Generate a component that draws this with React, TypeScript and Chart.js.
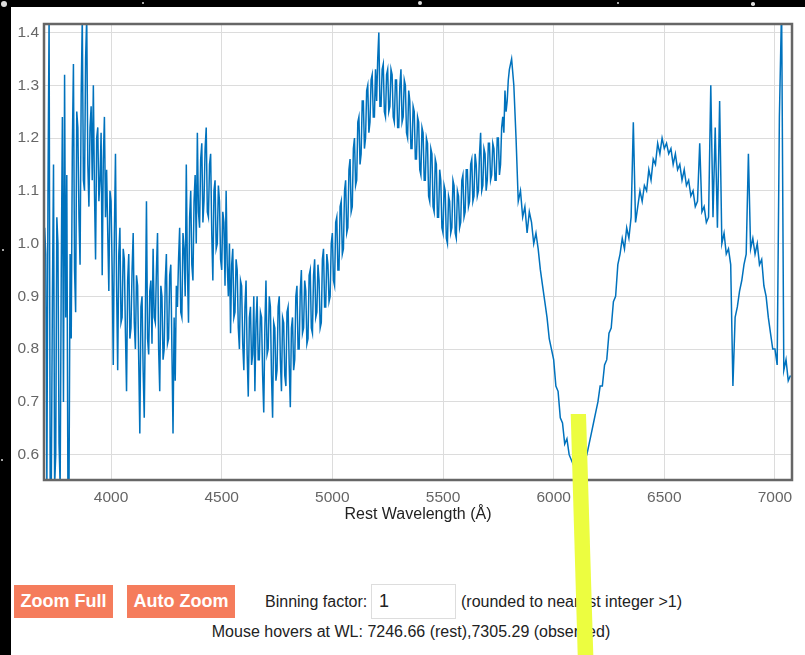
import React, { useEffect, useRef } from 'react';
import { Chart, registerables } from 'chart.js';

Chart.register(...registerables);

// Spectrum, rest wavelength grid: every 5 Å from 3700 to 5795 Å, then every 10 Å to 7070 Å
const FINE_START = 3700;
const FINE_STEP = 5;
const COARSE_START = 5800;
const COARSE_STEP = 10;

const FLUX_3700_4695 = [
  1.03, 0.98, 0.54, 1.10, 1.43, 0.54, 0.54, 0.90, 1.15, 0.54, 0.60, 1.05, 1.00, 0.62, 0.54, 0.95, 1.24, 0.70, 1.32, 0.86,
  1.13, 0.54, 0.54, 0.98, 0.82, 1.18, 1.34, 0.95, 0.87, 1.25, 1.22, 1.05, 0.96, 1.28, 1.43, 1.12, 1.10, 1.35, 1.43, 1.15,
  1.07, 1.22, 1.26, 1.12, 1.30, 1.10, 0.97, 1.20, 1.22, 1.08, 1.12, 1.21, 0.94, 1.16, 1.24, 1.05, 1.14, 1.02, 0.91, 1.10,
  1.08, 0.95, 0.77, 1.02, 1.17, 0.92, 0.76, 0.98, 1.03, 0.85, 0.86, 0.99, 0.97, 0.83, 0.72, 0.93, 0.98, 0.82, 0.84, 0.95,
  1.02, 0.85, 0.80, 0.94, 0.92, 0.78, 0.64, 0.88, 0.90, 0.76, 0.67, 0.86, 1.08, 0.82, 0.79, 0.91, 0.93, 0.81, 0.99, 0.86,
  0.85, 0.95, 1.02, 0.80, 0.72, 0.92, 0.90, 0.78, 0.80, 0.93, 0.98, 0.81, 0.82, 0.94, 0.96, 0.80, 0.64, 0.86, 0.74, 0.92,
  0.88, 0.97, 1.03, 0.87, 0.86, 1.02, 0.99, 0.90, 1.15, 0.95, 0.85, 1.05, 1.10, 0.96, 0.93, 1.08, 1.13, 1.00, 1.21, 1.06,
  1.03, 1.16, 1.19, 1.04, 1.08, 1.18, 1.22, 1.06, 1.05, 1.15, 1.17, 1.02, 0.93, 1.10, 1.12, 0.99, 1.00, 1.11, 1.08, 0.97,
  0.95, 1.06, 1.04, 0.92, 1.10, 0.96, 0.90, 1.00, 0.83, 0.96, 0.99, 0.86, 0.87, 0.97, 0.95, 0.84, 0.80, 0.93, 0.92, 0.81,
  0.76, 0.88, 0.93, 0.79, 0.71, 0.86, 0.88, 0.77, 0.79, 0.90, 0.72, 0.85, 0.90, 0.78, 0.78, 0.87, 0.86, 0.75, 0.68, 0.84,
];
const FLUX_4700_5795 = [
  0.93, 0.79, 0.80, 0.90, 0.88, 0.75, 0.67, 0.85, 0.84, 0.74, 0.76, 0.88, 0.90, 0.78, 0.72, 0.86, 0.85, 0.75, 0.73, 0.87,
  0.88, 0.77, 0.69, 0.84, 0.86, 0.76, 0.78, 0.90, 0.92, 0.80, 0.80, 0.91, 0.95, 0.83, 0.84, 0.93, 0.91, 0.81, 0.82, 0.94,
  0.95, 0.84, 0.83, 0.94, 0.97, 0.86, 0.87, 0.96, 0.93, 0.84, 0.85, 0.97, 0.99, 0.88, 0.88, 0.98, 0.96, 0.89, 0.90, 1.00,
  1.02, 0.93, 0.92, 1.04, 1.05, 0.95, 0.95, 1.07, 1.08, 0.98, 0.99, 1.10, 1.12, 1.02, 1.03, 1.14, 1.16, 1.06, 1.07, 1.18,
  1.20, 1.11, 1.12, 1.23, 1.24, 1.15, 1.17, 1.27, 1.27, 1.18, 1.20, 1.29, 1.30, 1.21, 1.23, 1.31, 1.32, 1.24, 1.24, 1.33,
  1.27, 1.35, 1.40, 1.26, 1.26, 1.33, 1.34, 1.25, 1.24, 1.32, 1.33, 1.25, 1.26, 1.33, 1.32, 1.24, 1.23, 1.31, 1.31, 1.22,
  1.22, 1.30, 1.33, 1.23, 1.24, 1.31, 1.30, 1.21, 1.20, 1.29, 1.27, 1.18, 1.18, 1.26, 1.25, 1.16, 1.16, 1.24, 1.23, 1.14,
  1.13, 1.22, 1.21, 1.12, 1.12, 1.20, 1.19, 1.09, 1.08, 1.18, 1.17, 1.07, 1.06, 1.16, 1.15, 1.05, 1.05, 1.14, 1.12, 1.03,
  1.02, 1.11, 1.10, 1.01, 1.00, 1.09, 1.08, 1.02, 1.03, 1.12, 1.11, 1.02, 1.01, 1.10, 1.09, 1.03, 1.04, 1.12, 1.13, 1.05,
  1.06, 1.14, 1.14, 1.07, 1.08, 1.15, 1.16, 1.08, 1.09, 1.17, 1.15, 1.09, 1.10, 1.17, 1.21, 1.10, 1.11, 1.18, 1.17, 1.10,
  1.12, 1.19, 1.19, 1.12, 1.13, 1.19, 1.18, 1.12, 1.12, 1.20, 1.20, 1.13, 1.15, 1.22, 1.24, 1.21, 1.29, 1.25, 1.27, 1.31,
];
const FLUX_5800_6190 = [
  1.33, 1.35, 1.30, 1.20, 1.08, 1.10, 1.05, 1.07, 1.02, 1.06,
  1.04, 1.00, 1.02, 0.99, 0.95, 0.92, 0.89, 0.86, 0.82, 0.80,
  0.78, 0.73, 0.72, 0.67, 0.66, 0.62, 0.63, 0.60, 0.59, 0.58,
  0.58, 0.57, 0.58, 0.575, 0.59, 0.60, 0.62, 0.64, 0.66, 0.68,
];
const FLUX_6200_6690 = [
  0.70, 0.73, 0.73, 0.77, 0.78, 0.83, 0.84, 0.89, 0.90, 0.96,
  0.98, 1.01, 0.99, 1.03, 1.01, 1.05, 1.23, 1.04, 1.07, 1.10,
  1.08, 1.11, 1.10, 1.14, 1.12, 1.16, 1.15, 1.19, 1.17, 1.20,
  1.18, 1.19, 1.17, 1.18, 1.15, 1.17, 1.14, 1.15, 1.12, 1.14,
  1.11, 1.12, 1.09, 1.10, 1.07, 1.08, 1.19, 1.06, 1.07, 1.04,
];
const FLUX_6700_7070 = [
  1.05, 1.30, 1.05, 1.22, 1.03, 1.27, 1.00, 1.02, 0.98, 0.99,
  0.96, 0.73, 0.86, 0.88, 0.91, 0.93, 0.96, 0.98, 1.17, 0.99,
  1.01, 0.98, 1.00, 0.96, 0.97, 0.92, 0.90, 0.86, 0.83, 0.80,
  0.80, 0.77, 1.24, 1.45, 0.76, 0.78, 0.74, 0.75,
];

const X_TICKS = [4000, 4500, 5000, 5500, 6000, 6500, 7000];
const Y_TICKS = [0.6, 0.7, 0.8, 0.9, 1.0, 1.1, 1.2, 1.3, 1.4];
const X_MIN = 3697;
const X_MAX = 7077;
const Y_MIN = 0.552;
const Y_MAX = 1.416;
const X_TITLE = 'Rest Wavelength (Å)';

const FONT = "'Liberation Sans', Arial, Helvetica, sans-serif";

const plotBorder = {
  id: 'plotBorder',
  afterDatasetsDraw(chart: any) {
    const { ctx, chartArea: a } = chart;
    ctx.save();
    ctx.strokeStyle = '#666666';
    ctx.lineWidth = 2.5;
    ctx.strokeRect(a.left, a.top, a.right - a.left, a.bottom - a.top);
    ctx.restore();
  },
};

export default function App() {
  const canvasRef = useRef<HTMLCanvasElement | null>(null);

  useEffect(() => {
    const fine = [...FLUX_3700_4695, ...FLUX_4700_5795].map((v, i) => ({ x: FINE_START + i * FINE_STEP, y: v }));
    const coarse = [...FLUX_5800_6190, ...FLUX_6200_6690, ...FLUX_6700_7070].map((v, i) => ({
      x: COARSE_START + i * COARSE_STEP,
      y: v,
    }));
    const points = [...fine, ...coarse];
    const chart = new Chart(canvasRef.current as HTMLCanvasElement, {
      type: 'line',
      data: {
        datasets: [
          {
            data: points,
            borderColor: '#0072bd',
            borderWidth: 1.5,
            pointRadius: 0,
            tension: 0,
            fill: false,
          },
        ],
      },
      options: {
        responsive: false,
        animation: false,
        events: [],
        layout: { autoPadding: false, padding: { left: 0, top: 17, right: 13, bottom: 0 } },
        plugins: { legend: { display: false }, tooltip: { enabled: false } },
        scales: {
          x: {
            type: 'linear',
            min: X_MIN,
            max: X_MAX,
            afterBuildTicks: (s: any) => {
              s.ticks = X_TICKS.map((v) => ({ value: v }));
            },
            afterFit: (s: any) => {
              s.height = 60;
            },
            grid: { color: '#dcdcdc', lineWidth: 1, drawTicks: false },
            border: { display: false },
            ticks: {
              color: '#666666',
              font: { family: FONT, size: 15.5 },
              padding: 8.5,
              maxRotation: 0,
              autoSkip: false,
              callback: (v: any) => String(v),
            },
            title: {
              display: true,
              text: X_TITLE,
              color: '#222222',
              font: { family: FONT, size: 16 },
              padding: { top: 0, bottom: 15.4 },
            },
          },
          y: {
            type: 'linear',
            min: Y_MIN,
            max: Y_MAX,
            afterBuildTicks: (s: any) => {
              s.ticks = Y_TICKS.map((v) => ({ value: v }));
            },
            afterFit: (s: any) => {
              s.width = 33;
            },
            grid: { color: '#dcdcdc', lineWidth: 1, drawTicks: false },
            border: { display: false },
            ticks: {
              color: '#666666',
              font: { family: FONT, size: 15.5 },
              padding: 5,
              autoSkip: false,
              callback: (v: any) => Number(v).toFixed(1),
            },
          },
        },
      },
      plugins: [plotBorder],
    } as any);
    return () => chart.destroy();
  }, []);

  const text: React.CSSProperties = {
    position: 'absolute',
    fontFamily: FONT,
    fontSize: 16,
    color: '#222',
    whiteSpace: 'nowrap',
    lineHeight: '20px',
  };
  const btn: React.CSSProperties = {
    position: 'absolute',
    top: 585,
    height: 33,
    background: '#f57c5c',
    color: '#fff',
    fontFamily: FONT,
    fontWeight: 'bold',
    fontSize: 18,
    lineHeight: '33px',
    textAlign: 'center',
  };
  const stars = [
    [4, 4, 3],
    [143, 3, 1.2],
    [420, 3, 2],
    [618, 3, 1.2],
    [753, 4, 1.8],
    [2, 460, 1],
    [3, 250, 1],
  ];

  return (
    <div style={{ position: 'fixed', left: 0, top: 0, width: 805, height: 655, background: '#000', overflow: 'hidden' }}>
      {stars.map(([x, y, r], i) => (
        <div
          key={i}
          style={{ position: 'absolute', left: x - r, top: y - r, width: r * 2, height: r * 2, borderRadius: '50%', background: '#ddd' }}
        />
      ))}
      <div style={{ position: 'absolute', left: 11, top: 7, right: 0, bottom: 0, background: '#fff' }} />
      <canvas
        ref={canvasRef}
        width={794}
        height={533}
        style={{ position: 'absolute', left: 11, top: 7, width: 794, height: 533 }}
      />
      <div style={{ ...btn, left: 14, width: 99 }}>Zoom Full</div>
      <div style={{ ...btn, left: 127, width: 108 }}>Auto Zoom</div>
      <div style={{ ...text, left: 265, top: 592 }}>Binning factor:</div>
      <input
        readOnly
        value="1"
        style={{
          position: 'absolute',
          left: 371,
          top: 584,
          width: 85,
          height: 35,
          boxSizing: 'border-box',
          border: '1px solid #dddddd',
          padding: '0 0 0 7px',
          margin: 0,
          fontFamily: FONT,
          fontSize: 18,
          color: '#222',
          background: '#fff',
          outline: 'none',
        }}
      />
      <div style={{ ...text, left: 461, top: 592 }}>(rounded to nearest integer &gt;1)</div>
      <div style={{ ...text, left: 11, width: 800, top: 622, textAlign: 'center' }}>
        Mouse hovers at WL: 7246.66 (rest),7305.29 (observed)
      </div>
      <div
        style={{
          position: 'absolute',
          left: 570,
          top: 414,
          width: 24,
          height: 241,
          background: '#ecfd40',
          clipPath: 'polygon(0.7px 0, 16px 0, 23.3px 241px, 7.7px 241px)',
        }}
      />
    </div>
  );
}
